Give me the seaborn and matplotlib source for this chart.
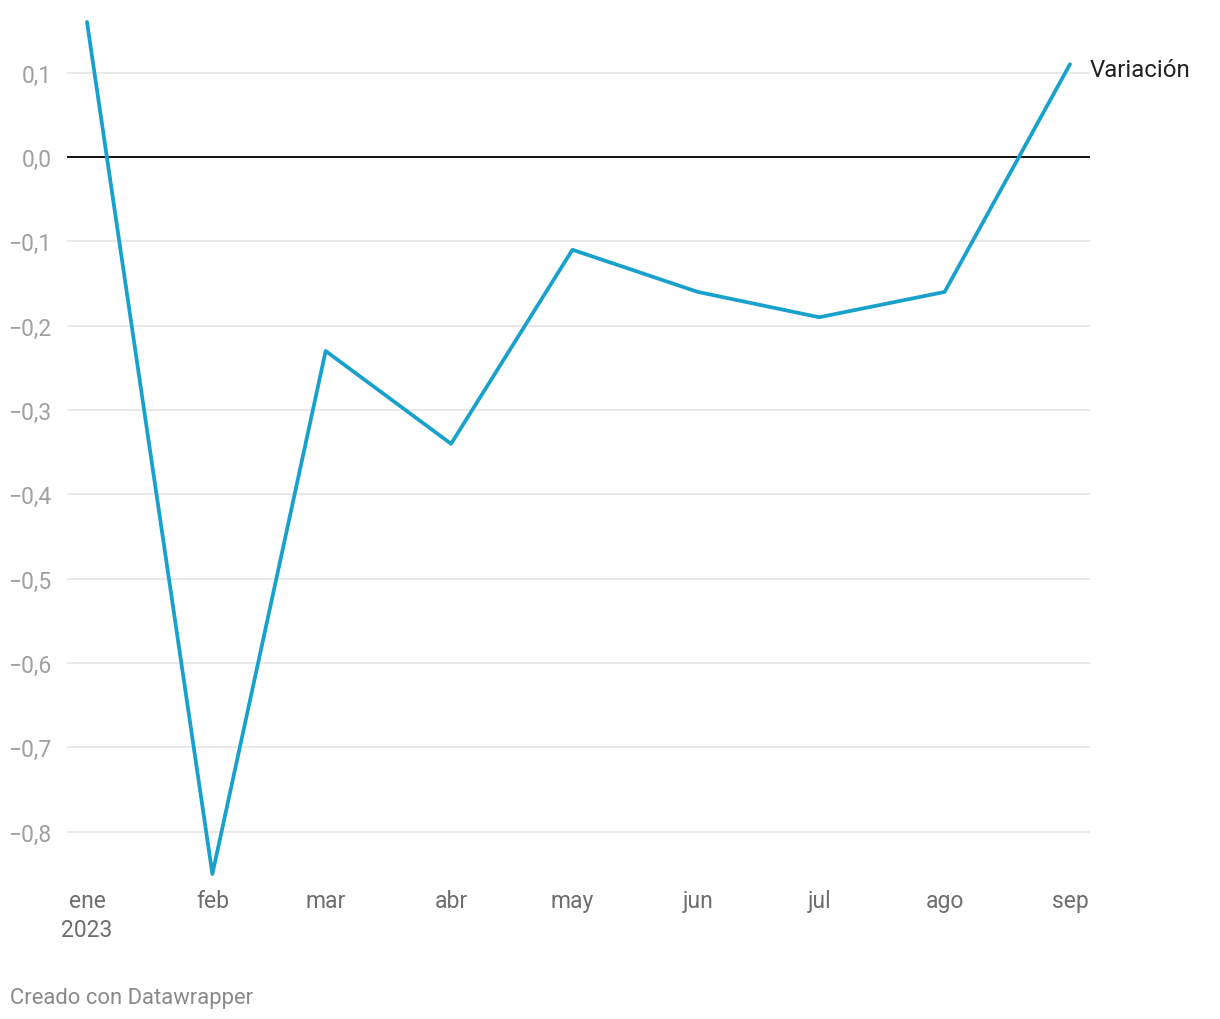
import matplotlib
matplotlib.use("Agg")
import matplotlib.pyplot as plt
import seaborn as sns
import pandas as pd
import numpy as np

months = ["2023-01-01", "2023-02-01", "2023-03-01", "2023-04-01", "2023-05-01",
          "2023-06-01", "2023-07-01", "2023-08-01", "2023-09-01"]
values = [0.16, -0.85, -0.23, -0.34, -0.11, -0.16, -0.19, -0.16, 0.11]
tick_labels = ["ene\n2023", "feb", "mar", "abr", "may", "jun", "jul", "ago", "sep"]
y_ticks = [0.1, 0.0, -0.1, -0.2, -0.3, -0.4, -0.5, -0.6, -0.7, -0.8]
series_name = "Variación"

df = pd.DataFrame({"fecha": pd.to_datetime(months), "valor": values})

sns.set_theme(style="white")
plt.rcParams['font.family'] = ['Roboto', 'DejaVu Sans']

fig = plt.figure(figsize=(12.2, 10.2), dpi=100)
ax = fig.add_axes([67/1220, 1 - 875/1020, (1090-67)/1220, (875-23)/1020])

color = "#18a1cd"
sns.lineplot(data=df, x="fecha", y="valor", ax=ax, color=color, linewidth=2.7, clip_on=False)

pad = pd.Timedelta(days=4.94)
ax.set_xlim(df["fecha"].iloc[0] - pad, df["fecha"].iloc[-1] + pad)
ax.set_ylim(-0.85, 0.16)

for y in y_ticks:
    if y == 0:
        ax.axhline(0, color="#111111", linewidth=1.4, zorder=1)
    else:
        ax.axhline(y, color="#e3e3e3", linewidth=1.1, zorder=0)

ax.set_yticks(y_ticks)
ax.set_yticklabels([("−" if v < 0 else "") + f"{abs(v):.1f}".replace(".", ",") for v in y_ticks],
                   color="#a0a0a0", fontsize=16.5)
ax.set_xticks(df["fecha"])
ax.set_xticklabels(tick_labels, color="#6e6e6e", fontsize=16.5, linespacing=1.3)
ax.tick_params(axis="y", length=0, pad=11)
ax.tick_params(axis="x", length=0, pad=11)
for lbl in ax.get_yticklabels():
    lbl.set_horizontalalignment("right")

for s in ax.spines.values():
    s.set_visible(False)
ax.set_xlabel("")
ax.set_ylabel("")

ax.annotate(series_name, xy=(df["fecha"].iloc[-1], values[-1]), xytext=(14, -4),
            textcoords="offset points", ha="left", va="center", fontsize=17.3,
            color="#222222", annotation_clip=False)

fig.text(10/1220, 1 - 999/1020, "Creado con Datawrapper", ha="left", va="center",
         fontsize=15.8, color="#8a8a8a")

fig.savefig("out.png", dpi=100, facecolor="white")
